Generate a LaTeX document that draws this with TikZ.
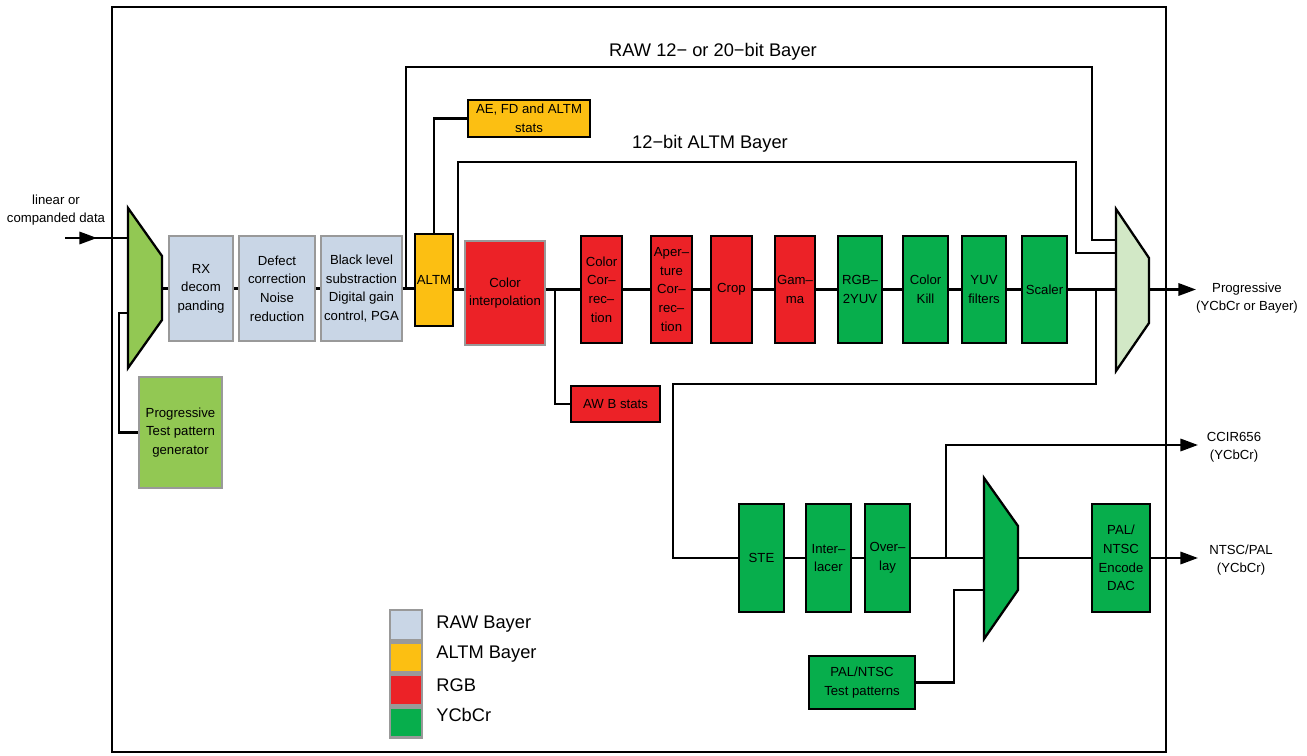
\documentclass[tikz,border=0pt]{standalone}
\usepackage{fontspec}
\setmainfont{Liberation Sans}
\usetikzlibrary{arrows.meta, positioning}
\definecolor{rawblue}{RGB}{201,214,230}
\definecolor{altmorange}{RGB}{252,191,18}
\definecolor{rgbred}{RGB}{236,34,39}
\definecolor{ycbgreen}{RGB}{7,174,76}
\definecolor{tpggreen}{RGB}{146,200,83}
\definecolor{muxgreen}{RGB}{210,232,198}
\definecolor{boxgray}{RGB}{153,153,153}

\tikzset{
  blk/.style={draw=black, line width=1.4pt, align=center, inner sep=0pt,
    font=\fontsize{7.5}{10.6}\selectfont},
  grayblk/.style={blk, draw=boxgray},
  wire/.style={line width=1.3pt},
  outarr/.style={wire, -{Triangle[length=10pt, width=7pt]}},
  big/.style={font=\fontsize{10.4}{12}\selectfont},
  small/.style={font=\fontsize{7.5}{10.2}\selectfont, align=center},
}

\begin{document}
\begin{tikzpicture}[x=0.02cm, y=-0.02cm, line join=miter]
	\useasboundingbox (0,0) rectangle (1307,756);
	% frame
	\draw[line width=1.1pt] (112,7) rectangle (1166,752);

	% muxes
	\draw[wire, fill=tpggreen] (128,208) -- (162,256) -- (162,320) -- (128,368) -- cycle;
	\draw[wire, fill=muxgreen] (1116,209) -- (1149,258) -- (1149,323) -- (1116,371) -- cycle;
	\draw[wire, fill=ycbgreen] (984,478) -- (1018,526) -- (1018,590) -- (984,639) -- cycle;
	\coordinate (m1a) at (128,238);
	\coordinate (m1b) at (128,313);
	\coordinate (m1out) at (162,288.5);
	\coordinate (m2a) at (1116,240);
	\coordinate (m2b) at (1116,253);
	\coordinate (m2c) at (1116,289.5);
	\coordinate (m2out) at (1149,289.5);
	\coordinate (m3a) at (984,558);
	\coordinate (m3b) at (984,590);
	\coordinate (m3out) at (1018,558);

	% raw bayer blocks
	\node[grayblk, fill=rawblue, minimum width=1.28cm, minimum height=2.1cm] (rx) at (201,288.5) {RX\\decom\\panding};
	\node[grayblk, fill=rawblue, minimum width=1.52cm, minimum height=2.1cm] (defect) at (277,288.5) {Defect\\correction\\Noise\\reduction};
	\node[grayblk, fill=rawblue, minimum width=1.62cm, minimum height=2.1cm] (black) at (361.5,288.5) {Black level\\substraction\\Digital gain\\control, PGA};
	\node[grayblk, fill=tpggreen, minimum width=1.66cm, minimum height=2.22cm] (tpg) at (180.5,432.5) {Progressive\\Test pattern\\generator};

	% altm
	\node[blk, fill=altmorange, minimum width=0.76cm, minimum height=1.84cm] (altm) at (434,280) {ALTM};
	\node[blk, fill=altmorange, minimum width=2.44cm, minimum height=0.74cm] (stats) at (529,118.5) {AE, FD and ALTM\\stats};

	% rgb blocks
	\node[grayblk, fill=rgbred, minimum width=1.6cm, minimum height=2.08cm] (ci) at (505,293) {Color\\interpolation};
	\node[blk, fill=rgbred, minimum width=1.78cm, minimum height=0.72cm] (awb) at (615.5,404) {AW B stats};
	\node[blk, fill=rgbred, minimum width=0.82cm, minimum height=2.14cm] (cc) at (601.5,289.5) {Color\\Cor–\\rec–\\tion};
	\node[blk, fill=rgbred, minimum width=0.82cm, minimum height=2.14cm] (ap) at (671.5,289.5) {Aper–\\ture\\Cor–\\rec–\\tion};
	\node[blk, fill=rgbred, minimum width=0.82cm, minimum height=2.14cm] (crop) at (731.5,289.5) {Crop};
	\node[blk, fill=rgbred, minimum width=0.8cm, minimum height=2.14cm] (gam) at (795,289.5) {Gam–\\ma};

	% ycbcr blocks
	\node[blk, fill=ycbgreen, minimum width=0.88cm, minimum height=2.14cm] (rgbyuv) at (860,289.5) {RGB–\\2YUV};
	\node[blk, fill=ycbgreen, minimum width=0.9cm, minimum height=2.14cm] (kill) at (925.5,289.5) {Color\\Kill};
	\node[blk, fill=ycbgreen, minimum width=0.88cm, minimum height=2.14cm] (yuvf) at (984,289.5) {YUV\\filters};
	\node[blk, fill=ycbgreen, minimum width=0.9cm, minimum height=2.14cm] (scaler) at (1044.5,289.5) {Scaler};
	\node[blk, fill=ycbgreen, minimum width=0.9cm, minimum height=2.16cm] (ste) at (761.5,558) {STE};
	\node[blk, fill=ycbgreen, minimum width=0.9cm, minimum height=2.16cm] (inter) at (828.5,558) {Inter–\\lacer};
	\node[blk, fill=ycbgreen, minimum width=0.9cm, minimum height=2.16cm] (over) at (887.5,558) {Over–\\lay};
	\node[blk, fill=ycbgreen, minimum width=1.16cm, minimum height=2.16cm] (pal) at (1121,558) {PAL/\\NTSC\\Encode\\DAC};
	\node[blk, fill=ycbgreen, minimum width=2.12cm, minimum height=1.06cm] (tp) at (862,682.5) {PAL/NTSC\\Test patterns};

	% input
	\coordinate (in) at (65,238);
	\coordinate (inarr) at (97,238);
	\node[small] (inlbl) at (56,210) {linear or\\companded data};
	\draw[wire] (in) -- (m1a);
	\draw[outarr] (in) -- (inarr);
	\draw[wire] (tpg.west) -- ++(-19,0) |- (m1b);

	% raw chain
	\draw[wire] (m1out) -- (rx.west);
	\draw[wire] (rx.east) -- (defect.west);
	\draw[wire] (defect.east) -- (black.west);
	\draw[wire] (black.east) -- (altm.west |- black.east);
	\coordinate (rawsplit) at (406,288.5);
	\draw[wire] (rawsplit) |- (1092,67) |- (m2a);
	\node[big] (rawlbl) at (713,52) {RAW 12− or 20−bit Bayer};
	\draw[wire] (altm.north) |- (stats.west);

	% altm and rgb chain
	\draw[wire] (altm.east |- cc) -- (ci.west |- cc);
	\coordinate (altmsplit) at (458,289.5);
	\draw[wire] (altmsplit) |- (1076,162) |- (m2b);
	\node[big] (altmlbl) at (710,144) {12−bit ALTM Bayer};
	\draw[wire] (ci.east |- cc) -- (cc.west);
	\coordinate (awbsplit) at (555,289.5);
	\draw[wire] (awbsplit) |- (awb.west);
	\draw[wire] (cc.east) -- (ap.west);
	\draw[wire] (ap.east) -- (crop.west);
	\draw[wire] (crop.east) -- (gam.west);
	\draw[wire] (gam.east) -- (rgbyuv.west);
	\draw[wire] (rgbyuv.east) -- (kill.west);
	\draw[wire] (kill.east) -- (yuvf.west);
	\draw[wire] (yuvf.east) -- (scaler.west);
	\draw[wire] (scaler.east) -- (m2c);

	% progressive out
	\coordinate (progout) at (1196,289.5);
	\draw[outarr] (m2out) -- (progout);
	\node[small] (proglbl) at (1247,298) {Progressive\\(YCbCr or Bayer)};

	% video chain
	\coordinate (vidsplit) at (1096,289.5);
	\draw[wire] (vidsplit) |- (673,384) |- (ste.west);
	\draw[wire] (ste.east) -- (inter.west);
	\draw[wire] (inter.east) -- (over.west);
	\draw[wire] (over.east) -- (m3a);
	\coordinate (ccirsplit) at (946,558);
	\coordinate (ccirout) at (1198,445);
	\draw[outarr] (ccirsplit) |- (ccirout);
	\node[small] (ccirlbl) at (1234,447) {CCIR656\\(YCbCr)};
	\draw[wire] (tp.east) -| (954,590) -- (m3b);
	\draw[wire] (m3out) -- (pal.west);
	\coordinate (ntscout) at (1198,558);
	\draw[outarr] (pal.east) -- (ntscout);
	\node[small] (ntsclbl) at (1241,560) {NTSC/PAL\\(YCbCr)};

	% legend
	\node[grayblk, fill=rawblue, minimum width=0.64cm, minimum height=0.6cm] (lraw) at (406,625) {};
	\node[grayblk, fill=altmorange, minimum width=0.64cm, minimum height=0.6cm, below=0pt of lraw] (laltm) {};
	\node[grayblk, fill=rgbred, minimum width=0.64cm, minimum height=0.6cm, below=0pt of laltm] (lrgb) {};
	\node[grayblk, fill=ycbgreen, minimum width=0.64cm, minimum height=0.6cm, below=0pt of lrgb] (lycb) {};
	\node[big, anchor=west, inner sep=0pt] at (436,624) {RAW Bayer};
	\node[big, anchor=west, inner sep=0pt] at (436,654) {ALTM Bayer};
	\node[big, anchor=west, inner sep=0pt] at (436,685) {RGB};
	\node[big, anchor=west, inner sep=0pt] at (436,715) {YCbCr};
\end{tikzpicture}
\end{document}
